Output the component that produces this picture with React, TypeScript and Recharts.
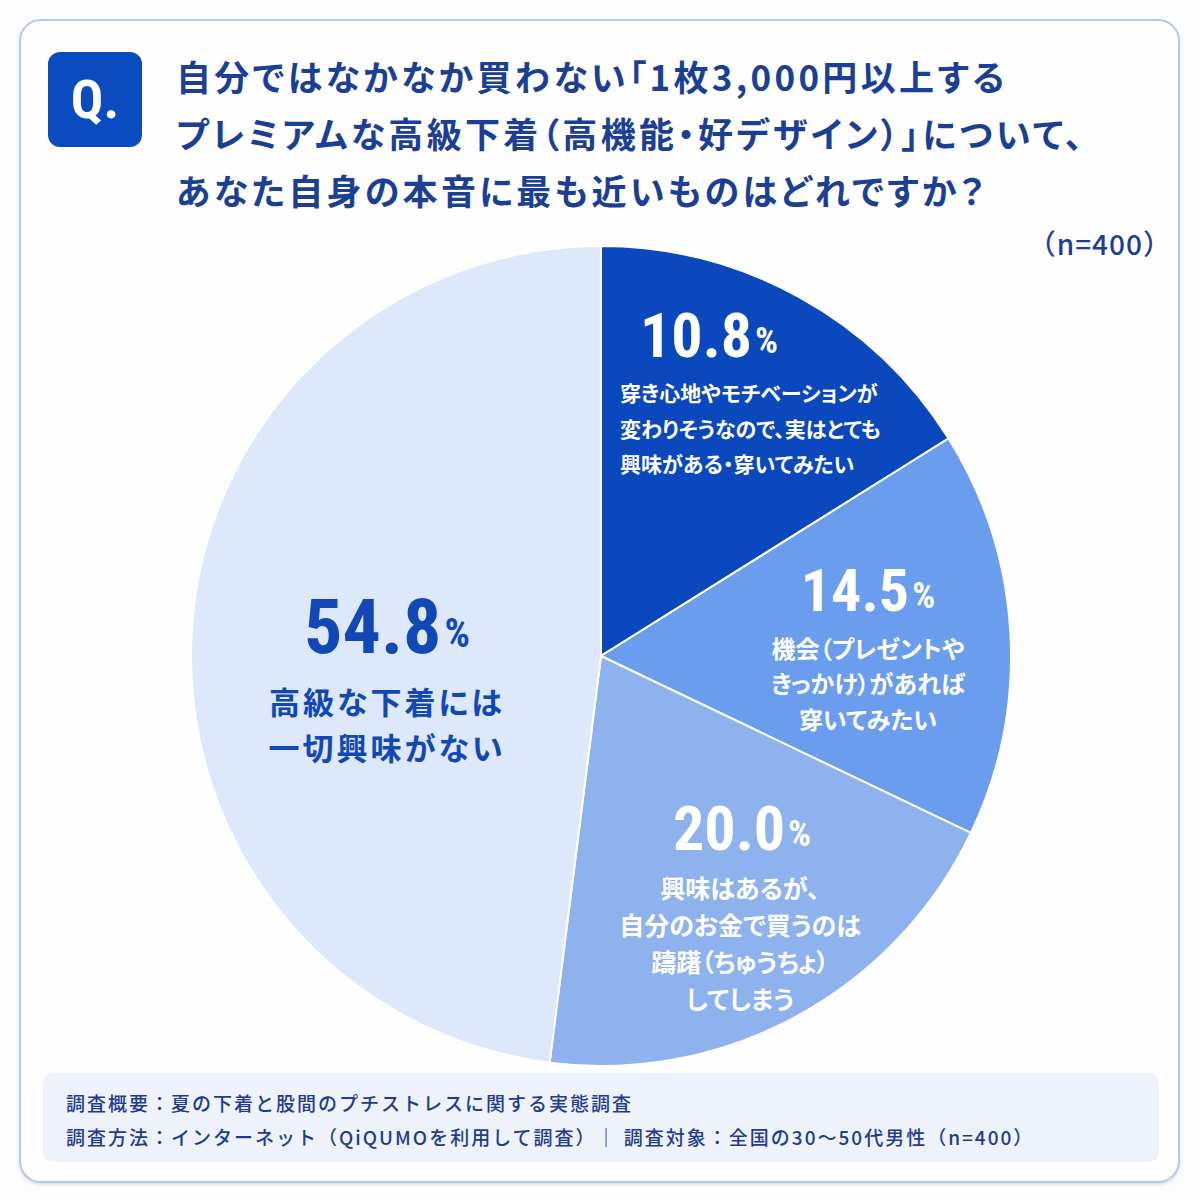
import React from 'react';
import { PieChart, Pie, Cell } from 'recharts';

const categories = [
  ['穿き心地やモチベーションが', '変わりそうなので、実はとても', '興味がある・穿いてみたい'],
  ['機会（プレゼントや', 'きっかけ）があれば', '穿いてみたい'],
  ['興味はあるが、', '自分のお金で買うのは', '躊躇（ちゅうちょ）', 'してしまう'],
  ['高級な下着には', '一切興味がない'],
];
// percentages printed on the chart
const values = [10.8, 14.5, 20.0, 54.8];
const valueLabels = ['10.8', '14.5', '20.0', '54.8'];
// slice sizes as actually drawn in the reference picture (measured angles, % of circle)
const drawnShares = [16.1, 16.0, 19.9, 48.0];
const titleLines = [
  '自分ではなかなか買わない「1枚3,000円以上する',
  'プレミアムな高級下着（高機能・好デザイン）」について、',
  'あなた自身の本音に最も近いものはどれですか？',
];
const sampleNote = '（n=400）';
const footerLines = [
  '調査概要：夏の下着と股間のプチストレスに関する実態調査',
  '調査方法：インターネット（QiQUMOを利用して調査）｜ 調査対象：全国の30〜50代男性（n=400）',
];

const COLORS = ['#0b47bd', '#6a9ded', '#8db2ee', '#dde8fa'];
const JP = "'Noto Sans CJK JP', 'Noto Sans', sans-serif";
const NUM = "'Liberation Sans Narrow', 'Roboto Condensed', 'Roboto', sans-serif";

const data = categories.map((c, i) => ({
  name: c.join(''),
  value: values[i],
  share: drawnShares[i],
  label: valueLabels[i],
  lines: c,
}));

// layout of the labels relative to the pie center (style, not data)
const LAYOUT = [
  { anchor: 'start', nx: 39, ny: -321, nSize: 62, pSize: 36, lx: 19, ly: -264, lh: 35.5, lSize: 21, color: '#ffffff', ls: 0 },
  { anchor: 'middle', nx: 267, ny: -66, nSize: 60, pSize: 36, lx: 267, ly: -9, lh: 35.5, lSize: 24, color: '#ffffff', ls: 0 },
  { anchor: 'middle', nx: 141, ny: 172, nSize: 62, pSize: 36, lx: 139, ly: 231, lh: 37, lSize: 25, color: '#ffffff', ls: 0 },
  { anchor: 'middle', nx: -214, ny: -29, nSize: 76, pSize: 40, lx: -214, ly: 44, lh: 46, lSize: 31, color: '#1247b6', ls: 3 },
];

const renderLabel = (props: any) => {
  const { cx, cy, index, payload } = props;
  const L = LAYOUT[index];
  const p = payload && payload.payload ? payload.payload : payload;
  const lines: string[] = (p && p.lines) || categories[index];
  const lab: string = (p && p.label) || valueLabels[index];
  return (
    <g key={`lab-${index}`}>
      <text
        x={cx + L.nx}
        y={cy + L.ny}
        textAnchor={L.anchor}
        dominantBaseline="central"
        fill={L.color}
        fontFamily={NUM}
        fontWeight={700}
        fontSize={L.nSize}
      >
        {lab}
        <tspan fontSize={L.pSize} dx={3} dy={6}>%</tspan>
      </text>
      {lines.map((t, k) => (
        <text
          key={k}
          x={cx + L.lx}
          y={cy + L.ly + k * L.lh}
          textAnchor={L.anchor}
          dominantBaseline="central"
          fill={L.color}
          fontFamily={JP}
          fontWeight={700}
          fontSize={L.lSize}
          letterSpacing={L.ls}
          style={{ fontFeatureSettings: "'palt'" }}
        >
          {t}
        </text>
      ))}
    </g>
  );
};

export default function App() {
  return (
    <div style={{ position: 'absolute', left: 0, top: 0, width: 1200, height: 1200, background: '#fdfdff', fontFamily: JP }}>
      <div
        style={{
          position: 'absolute',
          left: 19,
          top: 19,
          width: 1161,
          height: 1164,
          boxSizing: 'border-box',
          border: '2px solid #b3c7f0',
          borderRadius: 22,
          background: '#fefeff',
          boxShadow: '0 2px 3px rgba(150,170,220,0.35)',
        }}
      />
      <div
        style={{
          position: 'absolute',
          left: 48,
          top: 52,
          width: 94,
          height: 95,
          background: '#0a4cc0',
          borderRadius: 12,
          color: '#fff',
          fontFamily: NUM,
          fontWeight: 700,
          fontSize: 54,
          lineHeight: '95px',
          textAlign: 'center',
        }}
      >
        Q.
      </div>
      {titleLines.map((t, i) => (
        <div
          key={i}
          style={{
            position: 'absolute',
            left: 176,
            top: 76 + i * 57 - 25,
            height: 50,
            lineHeight: '50px',
            fontSize: 35,
            fontWeight: 700,
            color: '#1c3f96',
            whiteSpace: 'nowrap',
            letterSpacing: 3.3,
            fontFeatureSettings: "'palt'",
          }}
        >
          {t}
        </div>
      ))}
      <div
        style={{
          position: 'absolute',
          right: 28,
          top: 243 - 19,
          height: 38,
          lineHeight: '38px',
          fontSize: 28,
          fontWeight: 500,
          color: '#1c3f96',
          whiteSpace: 'nowrap',
          letterSpacing: 1,
        }}
      >
        {sampleNote}
      </div>
      <div style={{ position: 'absolute', left: 181, top: 236 }}>
        <PieChart width={840} height={840} margin={{ top: 0, right: 0, bottom: 0, left: 0 }}>
          <Pie
            data={data}
            dataKey="share"
            nameKey="name"
            cx={420}
            cy={420}
            outerRadius={410}
            startAngle={90}
            endAngle={-270}
            stroke="#ffffff"
            strokeWidth={2}
            isAnimationActive={false}
            labelLine={false}
            label={renderLabel}
          >
            {data.map((d, i) => (
              <Cell key={i} fill={COLORS[i]} />
            ))}
          </Pie>
        </PieChart>
      </div>
      <div
        style={{
          position: 'absolute',
          left: 43,
          top: 1073,
          width: 1116,
          height: 89,
          background: '#eef2fb',
          borderRadius: 10,
        }}
      />
      {footerLines.map((t, i) => (
        <div
          key={i}
          style={{
            position: 'absolute',
            left: 66,
            top: 1103 + i * 34 - 14,
            height: 28,
            lineHeight: '28px',
            fontSize: 19,
            fontWeight: 500,
            color: '#1f3c8c',
            whiteSpace: 'nowrap',
            letterSpacing: 2,
          }}
        >
          {t}
        </div>
      ))}
    </div>
  );
}
